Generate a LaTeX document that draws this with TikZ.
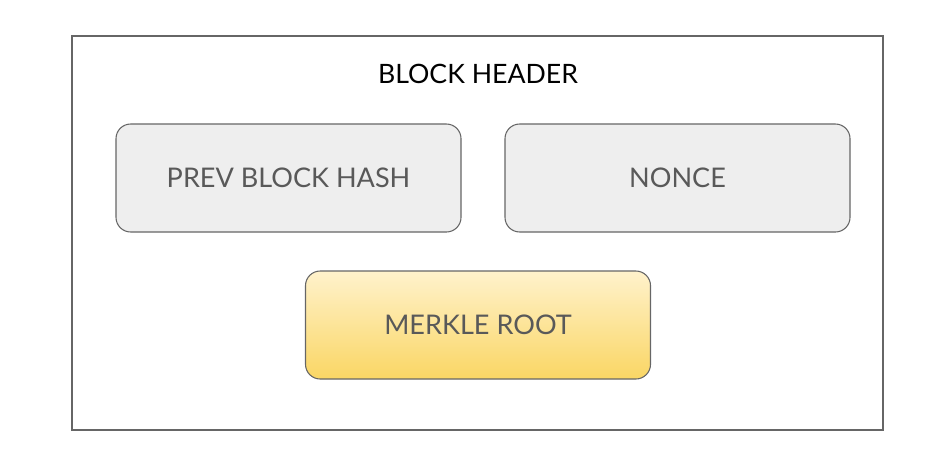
\documentclass[tikz,border=0pt]{standalone}
\usepackage{fontspec}
\setmainfont{Lato}
\usetikzlibrary{positioning}

\definecolor{boxline}{RGB}{102,102,102}
\definecolor{boxfill}{RGB}{238,238,238}
\definecolor{boxtext}{RGB}{89,89,89}
\definecolor{rootTop}{RGB}{255,242,204}
\definecolor{rootBottom}{RGB}{250,214,100}

\tikzset{
  field/.style={draw=boxline, fill=boxfill, rounded corners=11pt, line width=0.8pt,
    minimum width=258.75pt, minimum height=81pt, inner sep=0pt,
    text=boxtext, font=\fontsize{20.3}{24}\selectfont},
  rootfield/.style={field, top color=rootTop, bottom color=rootBottom}
}

\begin{document}
\begin{tikzpicture}[x=0.75pt,y=0.75pt,yscale=-1,xscale=1]
\useasboundingbox (0,0) rectangle (934,468);

%Shape: Rectangle [id:header]
\draw [color=boxline, line width=0.8pt] (72,36) rectangle (883,430);

% Text Node
\node (title) at (478,74) [inner sep=0pt, font=\fontsize{20}{24}\selectfont] {BLOCK HEADER};

% Rounded boxes
\node (prev) at (288.5,178) [field] {PREV BLOCK HASH};
\node (nonce) at (677.5,178) [field] {NONCE};
\node (root) at (478,325) [rootfield] {MERKLE ROOT};

\end{tikzpicture}
\end{document}
